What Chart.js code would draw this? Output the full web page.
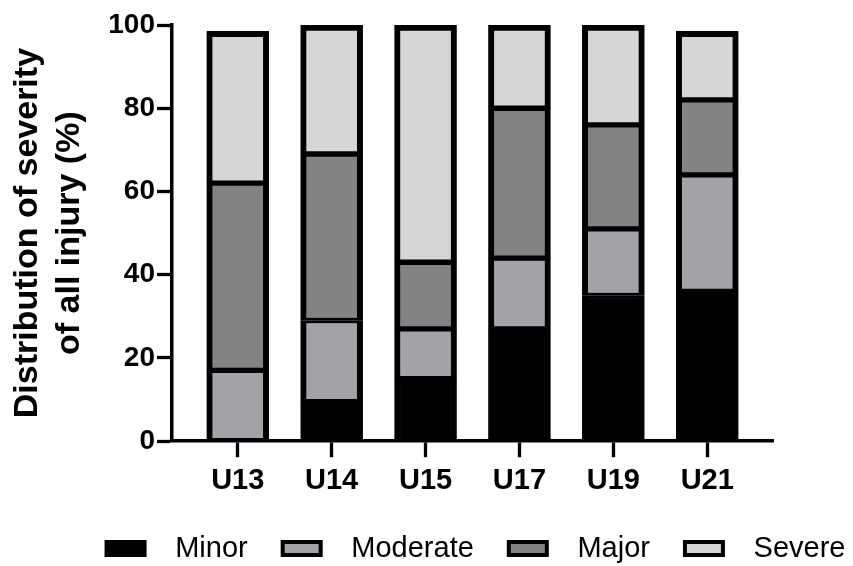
<!DOCTYPE html>
<html>
<head>
<meta charset="utf-8">
<script src="https://cdn.jsdelivr.net/npm/chart.js@4.4.1/dist/chart.umd.min.js"></script>
<style>
  html, body { margin: 0; padding: 0; background: #fff; }
</style>
</head>
<body>
<canvas id="chart" width="853" height="566"></canvas>
<script>
const categories = ['U13', 'U14', 'U15', 'U17', 'U19', 'U21'];
const minor    = [0,    9.5,  15, 27, 35, 36];
const moderate = [17,   19.5, 12, 17, 16, 28];
const major    = [45,   40,   16, 36, 25, 18];
const severe   = [36.5, 31,   57, 20, 24, 16.5];
const yTicks = [0, 20, 40, 60, 80, 100];

const seriesNames = ['Minor', 'Moderate', 'Major', 'Severe'];
const seriesValues = [minor, moderate, major, severe];
const seriesColors = ['#000000', '#a3a2a7', '#838383', '#d6d6d6'];

const FONT = "'Liberation Sans', Arial, sans-serif";

const datasets = seriesNames.map((name, s) => ({
    label: name,
    data: seriesValues[s].map((v, i) => ({ x: i, y: v })),
    backgroundColor: seriesColors[s],
    borderColor: '#000',
    // top segment gets the full outer border, inner joins add up to the same width
    borderWidth: { top: s === seriesNames.length - 1 ? 6 : 3, bottom: 3, left: 6, right: 6 },
    borderSkipped: false,
    barThickness: 62
}));

// legend in the original sits right of the canvas centre
const legendShift = {
    id: 'legendShift',
    afterUpdate(chart) {
        const lg = chart.legend;
        lg.left += 46;
        lg.right += 46;
        lg.top += 2;
        lg.bottom += 2;
    }
};

new Chart(document.getElementById('chart'), {
    type: 'bar',
    data: { datasets },
    plugins: [legendShift],
    options: {
        responsive: false,
        animation: false,
        devicePixelRatio: 1,
        layout: { padding: { left: 7, right: 0, top: 25, bottom: -5 } },
        scales: {
            x: {
                type: 'linear',
                stacked: true,
                offset: false,
                min: -0.7,
                max: 5.7,
                grid: { display: true, offset: false, drawOnChartArea: false, tickLength: 16, tickWidth: 3.3, tickColor: '#000' },
                border: { display: true, color: '#000', width: 3.5 },
                afterBuildTicks: s => { s.ticks = categories.map((c, i) => ({ value: i })); },
                afterFit: s => { s.height -= 8; },
                ticks: {
                    autoSkip: false,
                    maxRotation: 0,
                    padding: 6.5,
                    color: '#000',
                    font: { family: FONT, size: 29, weight: 'bold' },
                    callback: v => categories[v]
                }
            },
            y: {
                stacked: true,
                min: 0,
                max: 100,
                grid: { display: true, drawOnChartArea: false, tickLength: 15, tickWidth: 3.3, tickColor: '#000' },
                border: { display: true, color: '#000', width: 3.5 },
                afterBuildTicks: s => { s.ticks = yTicks.map(v => ({ value: v })); },
                afterFit: s => { s.width = 165; },
                ticks: {
                    padding: 2,
                    color: '#000',
                    font: { family: FONT, size: 28, weight: 'bold' }
                },
                title: {
                    display: true,
                    text: ['Distribution of severity', 'of all injury (%)'],
                    color: '#000',
                    padding: { top: 0, bottom: 0 },
                    font: { family: FONT, size: 34, weight: 'bold', lineHeight: 1.235 }
                }
            },
            // empty right-hand axis, only keeps white space right of the plot
            yRight: {
                axis: 'y',
                position: 'right',
                grid: { display: false },
                border: { display: false },
                ticks: { display: false },
                afterFit: s => { s.width = 80; }
            }
        },
        plugins: {
            tooltip: { enabled: false },
            legend: {
                position: 'bottom',
                labels: {
                    boxWidth: 38,
                    boxHeight: 13,
                    padding: 35,
                    color: '#000',
                    font: { family: FONT, size: 29 },
                    generateLabels: chart => chart.data.datasets.map((ds, i) => ({
                        text: '  ' + ds.label,
                        fillStyle: ds.backgroundColor,
                        strokeStyle: '#000',
                        lineWidth: 4,
                        hidden: false,
                        datasetIndex: i,
                        fontColor: '#000'
                    }))
                }
            }
        }
    }
});
</script>
</body>
</html>
